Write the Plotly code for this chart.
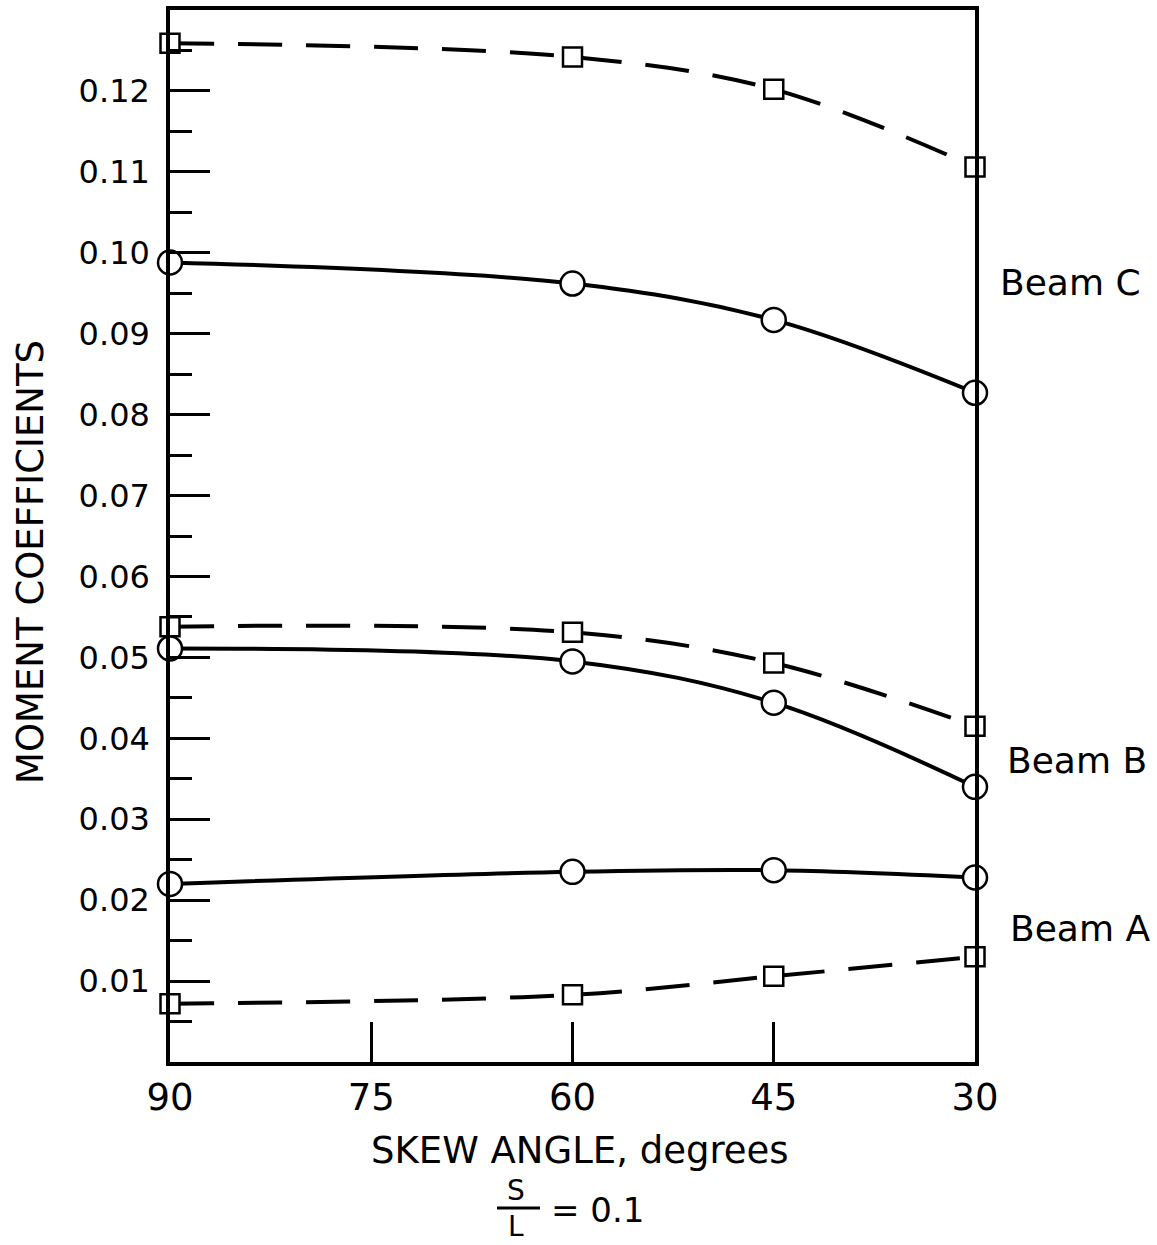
import plotly.graph_objects as go

skew = [90, 60, 45, 30]
beam_c_sq = [0.1259, 0.1242, 0.1202, 0.1106]
beam_c_ci = [0.0988, 0.0962, 0.0917, 0.0827]
beam_b_sq = [0.0538, 0.0531, 0.0493, 0.0415]
beam_b_ci = [0.0511, 0.0495, 0.0444, 0.0340]
beam_a_ci = [0.0220, 0.0235, 0.0237, 0.0228]
beam_a_sq = [0.0072, 0.0083, 0.0106, 0.0130]

x_ticks = [90, 75, 60, 45, 30]
y_ticks = [0.01, 0.02, 0.03, 0.04, 0.05, 0.06, 0.07, 0.08, 0.09, 0.10, 0.11, 0.12]
y_labels = ["0.01", "0.02", "0.03", "0.04", "0.05", "0.06", "0.07", "0.08", "0.09", "0.10", "0.11", "0.12"]
y_minor = [0.005, 0.015, 0.025, 0.035, 0.045, 0.055, 0.065, 0.075, 0.085, 0.095, 0.105, 0.115, 0.125]

FONT = "DejaVu Sans"
W, H = 1157, 1245
L, R, T, B = 170, 182, 10, 183

fig = go.Figure()

def add(y, dashed, symbol, size):
    fig.add_trace(go.Scatter(
        x=skew, y=y, mode="lines+markers",
        line=dict(color="black", width=4, shape="spline",
                  dash="44px,24px" if dashed else "solid"),
        marker=dict(symbol=symbol, size=size, color="white",
                    line=dict(color="black", width=2.5)),
        cliponaxis=False, showlegend=False))

add(beam_c_sq, True, "square", 19)
add(beam_c_ci, False, "circle", 24)
add(beam_b_sq, True, "square", 19)
add(beam_b_ci, False, "circle", 24)
add(beam_a_ci, False, "circle", 24)
add(beam_a_sq, True, "square", 19)

pw = W - L - R
ph = H - T - B

def px(x):
    return (x - L) / pw

def py(y):
    return 1 - (y - T) / ph

ann = []
def text(x, y, s, size=36, xanchor="center"):
    ann.append(dict(x=px(x), y=py(y), xref="paper", yref="paper", text=s,
                    showarrow=False, xanchor=xanchor, yanchor="middle",
                    borderpad=0,
                    font=dict(family=FONT, size=size, color="black")))

text(1070, 282, "Beam C")
text(1077, 760, "Beam B")
text(1080, 928, "Beam A")
text(580, 1150, "SKEW ANGLE, degrees", size=37)
text(516, 1208, "S<br>L", size=28)
text(597, 1210, "= 0.1", size=34)
ann.append(dict(x=px(30), y=py(562), xref="paper", yref="paper",
                text="MOMENT COEFFICIENTS", textangle=-90, showarrow=False,
                xanchor="center", yanchor="middle",
                font=dict(family=FONT, size=37, color="black")))

fig.update_layout(
    width=W, height=H,
    margin=dict(l=L, r=R, t=T, b=B, autoexpand=False),
    paper_bgcolor="white", plot_bgcolor="white",
    annotations=ann,
    shapes=[dict(type="line", xref="paper", yref="paper",
                 x0=px(497), x1=px(540), y0=py(1208), y1=py(1208),
                 line=dict(color="black", width=3))],
    font=dict(family=FONT, color="black"),
)

fig.update_xaxes(
    range=[90, 30], autorange=False,
    tickvals=x_ticks, ticktext=[str(v) for v in x_ticks],
    ticks="inside", ticklen=40, tickwidth=3, tickcolor="black",
    tickfont=dict(family=FONT, size=37, color="black"),
    showline=True, linecolor="black", linewidth=3.5, mirror=True,
    showgrid=False, zeroline=False, ticklabelstandoff=0,
)
fig.update_yaxes(
    range=[0, 0.13], autorange=False,
    tickvals=y_ticks, ticktext=y_labels,
    ticks="inside", ticklen=40, tickwidth=3, tickcolor="black",
    tickfont=dict(family=FONT, size=32, color="black"),
    minor=dict(tickvals=y_minor, ticks="inside", ticklen=22,
               tickwidth=3, tickcolor="black", showgrid=False),
    showline=True, linecolor="black", linewidth=3.5, mirror=True,
    showgrid=False, zeroline=False, ticklabelstandoff=10,
)

fig.write_html("out.html")
